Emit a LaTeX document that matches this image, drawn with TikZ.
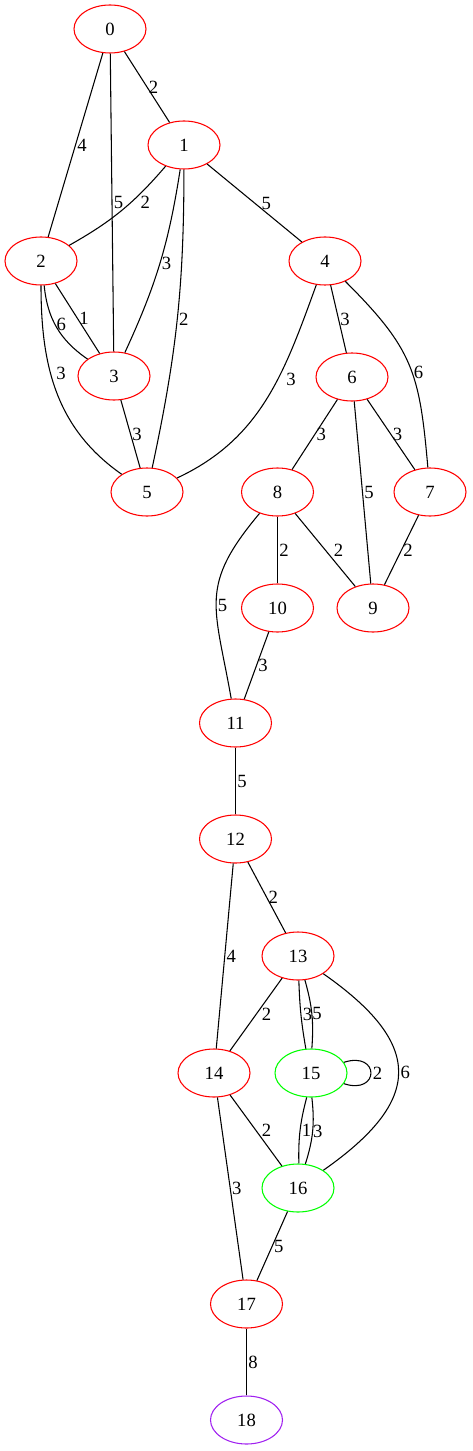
\documentclass[tikz,border=0pt]{standalone}
\usepackage{fontspec}
\setmainfont{Liberation Serif}
\usetikzlibrary{shapes.geometric}
\definecolor{vertRed}{HTML}{FF0000}
\definecolor{vertGreen}{HTML}{00FF00}
\definecolor{vertPurple}{HTML}{A020F0}

\begin{document}
\begin{tikzpicture}[x=0.75pt, y=0.75pt,
    vert/.style={ellipse, draw=vertRed, line width=0.8pt, minimum width=54pt, minimum height=36pt, inner sep=0pt, font=\fontsize{14}{16}\selectfont},
    wt/.style={anchor=west, inner sep=1pt, font=\fontsize{14}{16}\selectfont},
    link/.style={black, line width=0.8pt}]
    \useasboundingbox (0,0) rectangle (472,-1451);

    % vertices
    \node[vert] (n0) at (110,-29) {0};
    \node[vert] (n1) at (184,-145) {1};
    \node[vert] (n2) at (41,-261) {2};
    \node[vert] (n3) at (114,-376) {3};
    \node[vert] (n4) at (325,-261) {4};
    \node[vert] (n5) at (147,-492) {5};
    \node[vert] (n6) at (352,-377) {6};
    \node[vert] (n7) at (430,-492) {7};
    \node[vert] (n8) at (277.5,-492) {8};
    \node[vert] (n9) at (373,-608) {9};
    \node[vert] (n10) at (277.5,-608) {10};
    \node[vert] (n11) at (235.5,-723) {11};
    \node[vert] (n12) at (235.5,-839) {12};
    \node[vert] (n13) at (298,-956) {13};
    \node[vert] (n14) at (214,-1073) {14};
    \node[vert, draw=vertGreen] (n15) at (311,-1073) {15};
    \node[vert, draw=vertGreen] (n16) at (298,-1188) {16};
    \node[vert] (n17) at (246.5,-1304) {17};
    \node[vert, draw=vertPurple] (n18) at (246.5,-1420) {18};

    % edges
    \draw[link] (n0) -- node[wt]{2} (n1);
    \draw[link] (n0) -- node[wt]{4} (n2);
    \draw[link] (n0) -- node[wt]{5} (n3);
    \draw[link] (n1) to[bend left=10] node[wt, xshift=13pt, yshift=6pt]{2} (n2);
    \draw[link] (n1) to[bend left=8] node[wt]{3} (n3);
    \draw[link] (n1) to[bend left=6] node[wt]{2} (n5);
    \draw[link] (n1) -- node[wt, xshift=4pt]{5} (n4);
    \draw[link] (n2) to[bend right=25] node[wt, pos=0.45]{6} (n3);
    \draw[link] (n2) -- node[wt]{1} (n3);
    \draw[link] (n2) to[out=-90, in=145] node[wt, pos=0.4, xshift=3pt]{3} (n5);
    \draw[link] (n3) -- node[wt]{3} (n5);
    \draw[link] (n4) to[out=-110, in=25] node[wt, pos=0.4, xshift=5pt]{3} (n5);
    \draw[link] (n4) -- node[wt]{3} (n6);
    \draw[link] (n4) to[out=-45, in=95, looseness=1.2] node[wt, pos=0.55]{6} (n7);
    \draw[link] (n6) -- node[wt]{3} (n8);
    \draw[link] (n6) -- node[wt]{5} (n9);
    \draw[link] (n6) -- node[wt]{3} (n7);
    \draw[link] (n8) -- node[wt, xshift=5pt]{2} (n9);
    \draw[link] (n8) -- node[wt]{2} (n10);
    \draw[link] (n7) -- node[wt]{2} (n9);
    \draw[link] (n8) to[out=-130, in=100, looseness=1.3] node[wt, pos=0.55]{5} (n11);
    \draw[link] (n10) -- node[wt]{3} (n11);
    \draw[link] (n11) -- node[wt]{5} (n12);
    \draw[link] (n12) -- node[wt]{2} (n13);
    \draw[link] (n12) -- node[wt]{4} (n14);
    \draw[link] (n13) -- node[wt, xshift=3pt]{2} (n14);
    \draw[link] (n13.-88) to[bend right=4] node[wt]{3} (n15.102);
    \draw[link] (n13.-74) to[bend left=10] node[wt, inner sep=0pt]{5} (n15.88);
    \draw[link] (n15) to[out=18, in=-18, min distance=10mm] node[wt]{2} (n15);
    \draw[link] (n13) to[out=-35, in=35, looseness=1.6] node[wt]{6} (n16);
    \draw[link] (n15.-100) to[bend right=8] node[wt]{1} (n16.88);
    \draw[link] (n15.-88) to[bend left=12] node[wt, inner sep=0pt]{3} (n16.73);
    \draw[link] (n14) -- node[wt, xshift=3pt]{2} (n16);
    \draw[link] (n14) -- node[wt]{3} (n17);
    \draw[link] (n16) -- node[wt]{5} (n17);
    \draw[link] (n17) -- node[wt]{8} (n18);
\end{tikzpicture}
\end{document}
